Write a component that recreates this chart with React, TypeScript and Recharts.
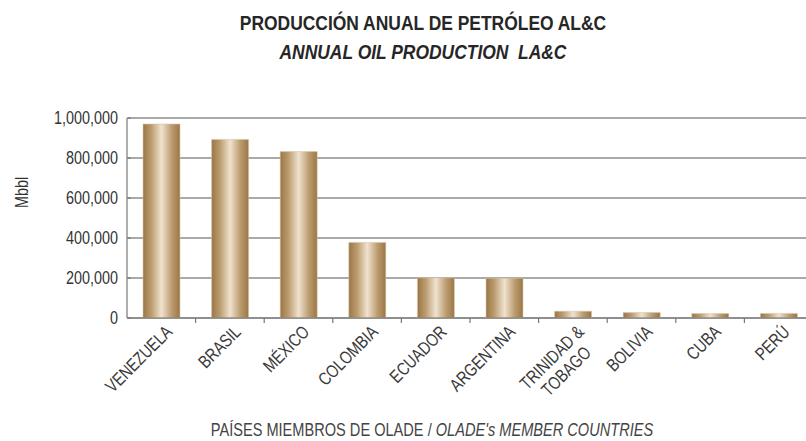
import { BarChart, Bar, XAxis, YAxis, CartesianGrid } from 'recharts';

const countries = ['VENEZUELA', 'BRASIL', 'MÉXICO', 'COLOMBIA', 'ECUADOR', 'ARGENTINA', 'TRINIDAD & TOBAGO', 'BOLIVIA', 'CUBA', 'PERÚ'];
const production = [970000, 893000, 832000, 378000, 201000, 199000, 34000, 27000, 22000, 23000];
const yTicks = [0, 200000, 400000, 600000, 800000, 1000000];

const data = countries.map((name, i) => ({ name, value: production[i] }));

// Arial Narrow is not available, so squeeze Liberation Sans horizontally
const FONT = '"Liberation Sans", Arial, sans-serif';
const NARROW = 0.8;
const BAND = 68.6;

const CountryTick = ({ x, y, payload }: any) => {
  const label: string = payload.value;
  const lines = label === 'TRINIDAD & TOBAGO' ? ['TRINIDAD &', 'TOBAGO'] : [label];
  return (
    <g>
      <line x1={x + BAND / 2} y1={y - 8} x2={x + BAND / 2} y2={y - 3} stroke="#777" strokeWidth={1.2} />
      <text
        transform={`translate(${x + 3},${y - 2}) rotate(-45) scale(${NARROW},1)`}
        textAnchor="end"
        fontFamily={FONT}
        fontSize={18}
        fill="#3a3a3a"
      >
        {lines.map((l, i) => (
          <tspan key={l} x={i === 0 ? 0 : -12} dy={i === 0 ? '0.71em' : '1.1em'}>{l}</tspan>
        ))}
      </text>
    </g>
  );
};

const ValueTick = ({ x, y, payload }: any) => (
  <g>
    <line x1={x + 17} y1={y} x2={x + 20} y2={y} stroke="#777" strokeWidth={1.2} />
    <text
      transform={`translate(${x + 7},${y}) scale(${NARROW},1)`}
      textAnchor="end"
      dy="0.36em"
      fontFamily={FONT}
      fontSize={18}
      fill="#333"
    >
      {payload.value.toLocaleString('en-US')}
    </text>
  </g>
);

export default function App() {
  return (
    <div style={{ position: 'fixed', top: 0, left: 0, width: 806, height: 441, overflow: 'hidden', background: '#fff' }}>
      <div style={{ position: 'absolute', top: 8, left: 0, width: 846, textAlign: 'center', fontFamily: FONT, fontWeight: 'bold', fontSize: 21, color: '#262626', lineHeight: '29px', transform: 'scaleX(0.83)' }}>
        <div>PRODUCCIÓN ANUAL DE PETRÓLEO AL&amp;C</div>
        <div style={{ fontStyle: 'italic' }}>ANNUAL OIL PRODUCTION&nbsp; LA&amp;C</div>
      </div>
      <div style={{ position: 'absolute', top: 182, left: 2, width: 40, textAlign: 'center', fontFamily: FONT, fontSize: 18, color: '#333', transform: `rotate(-90deg) scaleX(${NARROW})` }}>
        Mbbl
      </div>
      <BarChart width={820} height={441} data={data} margin={{ top: 118, right: 7, bottom: 0, left: 0 }}>
        <defs>
          <linearGradient id="barGrad" x1="0" y1="0" x2="1" y2="0">
            <stop offset="0%" stopColor="#9a7645" />
            <stop offset="22%" stopColor="#bb9b6e" />
            <stop offset="50%" stopColor="#f0e2cf" />
            <stop offset="78%" stopColor="#bb9b6e" />
            <stop offset="100%" stopColor="#9a7645" />
          </linearGradient>
        </defs>
        <CartesianGrid vertical={false} stroke="#8c8c8c" strokeWidth={1.5} />
        <XAxis
          dataKey="name"
          interval={0}
          tickLine={false}
          axisLine={{ stroke: '#777', strokeWidth: 1.2 }}
          tick={<CountryTick />}
          height={123}
        />
        <YAxis
          width={127}
          domain={[0, 1000000]}
          ticks={yTicks}
          axisLine={{ stroke: '#777', strokeWidth: 1.2 }}
          tickLine={false}
          tickMargin={10}
          tick={<ValueTick />}
        />
        <Bar dataKey="value" fill="url(#barGrad)" stroke="#d8c6ac" strokeWidth={0.6} barSize={37} isAnimationActive={false} />
      </BarChart>
      <div style={{ position: 'absolute', top: 420, left: 0, width: 864, textAlign: 'center', fontFamily: FONT, fontSize: 18, color: '#444', transform: 'scaleX(0.81)' }}>
        PAÍSES MIEMBROS DE OLADE / <i>OLADE's MEMBER COUNTRIES</i>
      </div>
    </div>
  );
}
